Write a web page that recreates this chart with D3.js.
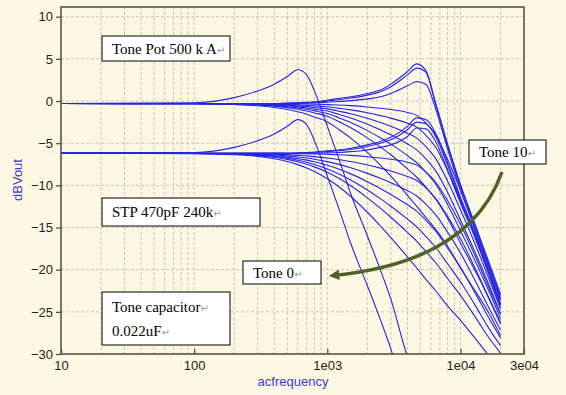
<!DOCTYPE html>
<html>
<head>
<meta charset="utf-8">
<script src="https://cdnjs.cloudflare.com/ajax/libs/d3/7.8.5/d3.min.js"></script>
<style>
  body { margin: 0; background: #fcf8e3; }
  svg { display: block; font-family: "Liberation Sans", Arial, sans-serif; }
</style>
</head>
<body>
<div id="chart"></div>
<script>
// frequency points (Hz) shared by all curves
var freqs = [10, 100, 200, 300, 400, 500, 600, 700, 800, 1000, 1200, 1500, 2000, 2500, 3000, 4000, 4700, 5500, 6500, 8000, 10000, 13000, 16000, 20000];

// upper family (dBVout), tone 0 .. tone 10
var toneA0  = [-0.3, -0.2, 0.4, 1.2, 2.0, 2.9, 3.7, 3.1, 1.2, -3.0, -6.5, -11.0, -16.0, -20.0, -23.5, -30.3, -33, -36, -39, -43, -47, -51, -55, -59];
var toneA1  = [-0.3, -0.33, -0.42, -0.56, -0.76, -1.0, -1.27, -1.56, -1.9, -2.45, -3.3, -4.4, -6.1, -7.6, -8.9, -11.2, -12.5, -13.8, -15.2, -17.2, -19.8, -22.6, -24.9, -27.8];
var toneA2  = [-0.3, -0.32, -0.38, -0.48, -0.61, -0.78, -0.97, -1.18, -1.41, -1.8, -2.39, -3.17, -4.37, -5.44, -6.37, -8.05, -9.04, -10.22, -11.62, -13.9, -16.86, -20.26, -23.11, -26.46];
var toneA3  = [-0.3, -0.32, -0.36, -0.44, -0.54, -0.67, -0.82, -0.98, -1.17, -1.48, -1.94, -2.55, -3.51, -4.36, -5.11, -6.47, -7.32, -8.42, -9.82, -12.26, -15.38, -19.1, -22.21, -25.78];
var toneA4  = [-0.3, -0.31, -0.35, -0.4, -0.47, -0.58, -0.69, -0.82, -0.96, -1.19, -1.55, -2.01, -2.75, -3.42, -4.0, -5.09, -5.8, -6.86, -8.26, -10.81, -14.1, -18.07, -21.43, -25.2];
var toneA5  = [-0.3, -0.31, -0.33, -0.37, -0.42, -0.49, -0.57, -0.66, -0.76, -0.93, -1.18, -1.51, -2.05, -2.54, -2.98, -3.81, -4.4, -5.4, -6.8, -9.48, -12.9, -17.13, -20.7, -24.65];
var toneA6  = [-0.3, -0.3, -0.32, -0.33, -0.36, -0.41, -0.46, -0.52, -0.58, -0.68, -0.84, -1.05, -1.4, -1.73, -2.03, -2.63, -3.1, -4.06, -5.46, -8.24, -11.8, -16.25, -20.03, -24.15];
var toneA7  = [-0.3, -0.3, -0.3, -0.3, -0.3, -0.32, -0.34, -0.36, -0.38, -0.42, -0.47, -0.55, -0.7, -0.85, -1.0, -1.35, -1.7, -2.6, -4.0, -6.9, -10.6, -15.3, -19.3, -23.6];
var toneA8  = [-0.3, -0.3, -0.3, -0.3, -0.3, -0.3, -0.28, -0.25, -0.22, -0.15, -0.05, 0.05, 0.25, 0.5, 0.9, 1.8, 2.3, 2.0, -0.9, -5.7, -10.5, -15.4, -19.3, -23.5];
var toneA9  = [-0.3, -0.3, -0.3, -0.3, -0.3, -0.27, -0.23, -0.2, -0.15, 0.0, 0.15, 0.35, 0.7, 1.1, 1.7, 3.1, 3.9, 3.4, -0.4, -5.3, -10.1, -15.0, -19.0, -23.2];
var toneA10 = [-0.3, -0.3, -0.3, -0.3, -0.3, -0.25, -0.2, -0.15, -0.1, 0.1, 0.3, 0.5, 0.9, 1.3, 2.0, 3.5, 4.4, 3.6, -0.2, -5.1, -9.9, -14.8, -18.7, -22.9];

// lower family (dBVout), tone 0 .. tone 10
var toneB0  = [-6.2, -6.1, -5.5, -4.7, -3.9, -3.0, -2.2, -2.8, -4.7, -8.9, -12.4, -16.9, -21.9, -25.9, -29.4, -36.2, -39, -42, -45, -49, -53, -57, -61, -65];
var toneB1  = [-6.2, -6.24, -6.37, -6.57, -6.84, -7.17, -7.54, -7.93, -8.35, -9.21, -10.07, -11.32, -13.19, -14.8, -16.2, -18.5, -19.8, -21.16, -22.5, -24.3, -26.0, -28.2, -30.0, -31.5];
var toneB2  = [-6.2, -6.23, -6.33, -6.47, -6.67, -6.92, -7.2, -7.5, -7.81, -8.46, -9.11, -10.05, -11.48, -12.71, -13.78, -15.58, -16.63, -17.84, -19.15, -21.05, -23.04, -25.68, -27.87, -29.89];
var toneB3  = [-6.2, -6.22, -6.3, -6.42, -6.58, -6.79, -7.02, -7.26, -7.52, -8.05, -8.59, -9.37, -10.55, -11.58, -12.48, -14.0, -14.92, -16.06, -17.34, -19.3, -21.44, -24.32, -26.72, -29.02];
var toneB4  = [-6.2, -6.22, -6.28, -6.37, -6.49, -6.65, -6.83, -7.01, -7.21, -7.62, -8.04, -8.64, -9.57, -10.37, -11.09, -12.31, -13.09, -14.14, -15.41, -17.43, -19.73, -22.87, -25.49, -28.09];
var toneB5  = [-6.2, -6.21, -6.25, -6.31, -6.39, -6.51, -6.63, -6.76, -6.9, -7.19, -7.48, -7.91, -8.58, -9.17, -9.69, -10.63, -11.26, -12.23, -13.47, -15.55, -18.02, -21.41, -24.26, -27.16];
var toneB6  = [-6.2, -6.21, -6.23, -6.26, -6.3, -6.36, -6.44, -6.51, -6.59, -6.75, -6.93, -7.18, -7.59, -7.96, -8.3, -8.94, -9.43, -10.31, -11.54, -13.68, -16.31, -19.96, -23.03, -26.23];
var toneB7  = [-6.2, -6.2, -6.2, -6.2, -6.2, -6.22, -6.24, -6.26, -6.28, -6.32, -6.37, -6.45, -6.6, -6.75, -6.9, -7.25, -7.6, -8.4, -9.6, -11.8, -14.6, -18.5, -21.8, -25.3];
var toneB8  = [-6.2, -6.2, -6.2, -6.2, -6.2, -6.2, -6.2, -6.2, -6.2, -6.15, -6.1, -6.0, -5.8, -5.5, -5.2, -4.2, -3.2, -3.3, -4.8, -8.2, -12.1, -16.4, -20.2, -24.5];
var toneB9  = [-6.2, -6.2, -6.2, -6.2, -6.2, -6.2, -6.2, -6.15, -6.1, -6.0, -5.9, -5.75, -5.4, -5.0, -4.6, -3.4, -2.5, -2.7, -4.2, -7.6, -11.7, -16.0, -19.9, -24.2];
var toneB10 = [-6.2, -6.2, -6.2, -6.2, -6.2, -6.2, -6.15, -6.1, -6.05, -5.9, -5.8, -5.6, -5.2, -4.8, -4.3, -3.0, -2.0, -2.2, -3.8, -7.3, -11.4, -15.8, -19.7, -24.0];

var curves = [toneA0, toneA1, toneA2, toneA3, toneA4, toneA5, toneA6, toneA7, toneA8, toneA9, toneA10,
              toneB0, toneB1, toneB2, toneB3, toneB4, toneB5, toneB6, toneB7, toneB8, toneB9, toneB10];

var yTicks = [10, 5, 0, -5, -10, -15, -20, -25, -30];
var xTicks = [10, 100, 1000, 10000, 30000];
var xTickLabels = ["10", "100", "1e03", "1e04", "3e04"];

// set the dimensions and margins of the graph
var margin = {top: 7, right: 42, bottom: 41, left: 61},
    width = 566 - margin.left - margin.right,
    height = 395 - margin.top - margin.bottom;

var svgRoot = d3.select("#chart")
  .append("svg")
    .attr("width", 566)
    .attr("height", 395);

var svg = svgRoot.append("g")
    .attr("transform", "translate(" + margin.left + "," + margin.top + ")");

var x = d3.scaleLog()
  .domain([10, 30000])
  .range([0, width]);

var y = d3.scaleLinear()
  .domain([-30, 11.15])
  .range([height, 0]);

// dashed grid
svg.append("g")
  .selectAll("line")
  .data(x.ticks().filter(function(d) { return d > 10 && d < 30000; }))
  .enter().append("line")
    .attr("x1", function(d) { return x(d); })
    .attr("x2", function(d) { return x(d); })
    .attr("y1", 0)
    .attr("y2", height)
    .attr("stroke", "#c9c5b3")
    .attr("stroke-dasharray", "3,2");

svg.append("g")
  .selectAll("line")
  .data(yTicks.filter(function(d) { return d > -30; }))
  .enter().append("line")
    .attr("x1", 0)
    .attr("x2", width)
    .attr("y1", function(d) { return y(d); })
    .attr("y2", function(d) { return y(d); })
    .attr("stroke", "#c9c5b3")
    .attr("stroke-dasharray", "3,2");

// curves
svg.append("clipPath").attr("id", "plotclip")
  .append("rect").attr("width", width).attr("height", height);

var line = d3.line()
  .x(function(d, i) { return x(freqs[i]); })
  .y(function(d) { return y(d); })
  .curve(d3.curveMonotoneX);

svg.append("g")
  .attr("clip-path", "url(#plotclip)")
  .selectAll("path")
  .data(curves)
  .enter().append("path")
    .attr("d", line)
    .attr("fill", "none")
    .attr("stroke", "#2424e6")
    .attr("stroke-width", 1.1);

// axes
var yAxis = svg.append("g")
  .call(d3.axisLeft(y)
    .tickValues(yTicks)
    .tickSize(5)
    .tickPadding(3)
    .tickFormat(function(d) { return d < 0 ? "\u2212" + Math.abs(d) : d; }));

var xAxis = svg.append("g")
  .attr("transform", "translate(0," + height + ")")
  .call(d3.axisBottom(x)
    .tickValues(xTicks)
    .tickSizeInner(-5)
    .tickSizeOuter(0)
    .tickPadding(7)
    .tickFormat(function(d, i) { return xTickLabels[i]; }));

[yAxis, xAxis].forEach(function(a) {
  a.select(".domain").remove();
  a.selectAll("line").attr("stroke", "#55553f").attr("stroke-width", 1.3);
  a.selectAll("text").attr("fill", "#222").style("font-size", "13px")
    .style("font-family", "'Liberation Sans', Arial, sans-serif");
});

// plot frame
svg.append("rect")
  .attr("width", width)
  .attr("height", height)
  .attr("fill", "none")
  .attr("stroke", "#55553f")
  .attr("stroke-width", 1.6);

// axis titles
svgRoot.append("text")
  .attr("x", 293).attr("y", 386)
  .attr("text-anchor", "middle")
  .attr("fill", "#3c3cc8")
  .style("font-size", "13px")
  .text("acfrequency");

svgRoot.append("text")
  .attr("transform", "translate(22,180) rotate(-90)")
  .attr("text-anchor", "middle")
  .attr("fill", "#3c3cc8")
  .style("font-size", "13px")
  .text("dBVout");

// note boxes
function note(bx, by, bw, bh, lines) {
  var g = svgRoot.append("g");
  g.append("rect")
    .attr("x", bx).attr("y", by).attr("width", bw).attr("height", bh)
    .attr("fill", "#fff").attr("stroke", "#000").attr("stroke-width", 1);
  lines.forEach(function(t, i) {
    var tx = g.append("text")
      .attr("x", bx + 10)
      .attr("y", by + (lines.length > 1 ? 20 + i * 24 : bh / 2 + 5))
      .style("font-family", "'Liberation Serif', 'DejaVu Serif', serif")
      .style("font-size", "15px")
      .attr("fill", "#000");
    tx.append("tspan").text(t);
    tx.append("tspan").attr("fill", "#999").style("font-size", "10px")
      .style("font-family", "'DejaVu Sans', sans-serif").text("\u21b5");
  });
}

note(102, 36, 128, 25, ["Tone Pot 500 k A"]);
note(102, 198, 158, 28, ["STP 470pF 240k"]);
note(102, 292, 128, 53, ["Tone capacitor", "0.022uF"]);
note(243, 261, 78, 23, ["Tone 0"]);
note(469, 140, 77, 24, ["Tone 10"]);

// green arrow from Tone 10 to Tone 0
svgRoot.append("defs").append("marker")
  .attr("id", "head")
  .attr("viewBox", "0 0 10 10")
  .attr("refX", 6).attr("refY", 5)
  .attr("markerWidth", 3).attr("markerHeight", 3)
  .attr("orient", "auto")
  .append("path")
    .attr("d", "M0,0 L10,5 L0,10 z")
    .attr("fill", "#4f6228");

svgRoot.append("path")
  .attr("d", "M502,172 Q470,262 333,275.5")
  .attr("fill", "none")
  .attr("stroke", "#4f6228")
  .attr("stroke-width", 3.5)
  .attr("marker-end", "url(#head)");
</script>
</body>
</html>
